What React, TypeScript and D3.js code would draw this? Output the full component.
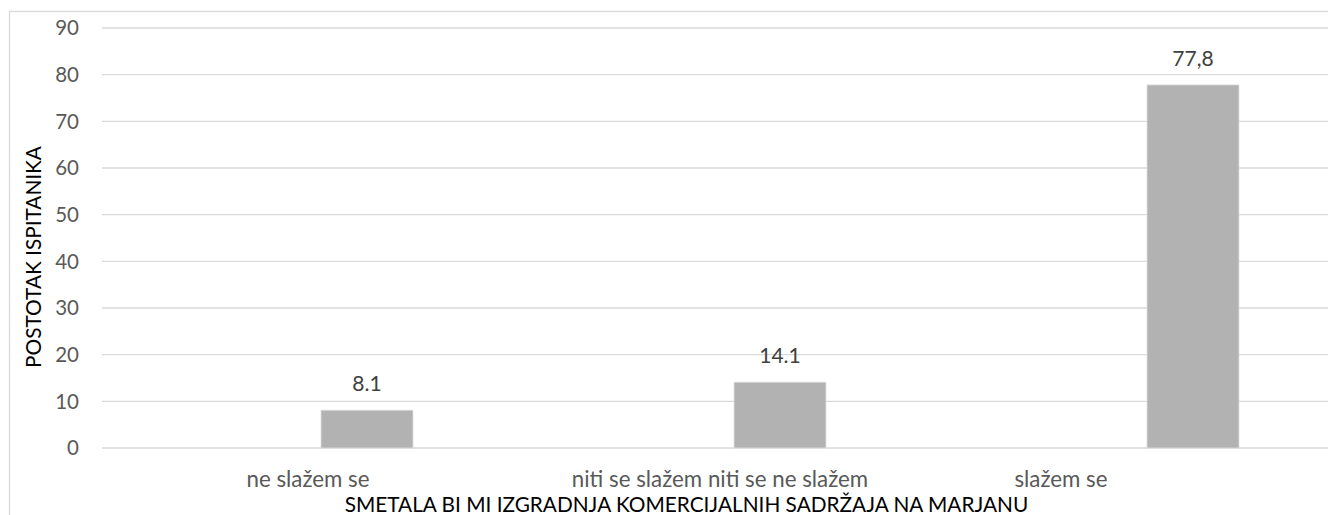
import React from "react";
import * as d3 from "d3";

const categories = ["ne slažem se", "niti se slažem niti se ne slažem", "slažem se"];
const values = [8.1, 14.1, 77.8];
const valueLabels = ["8.1", "14.1", "77,8"];
const yTicks = [0, 10, 20, 30, 40, 50, 60, 70, 80, 90];
const xTitle = "SMETALA BI MI IZGRADNJA KOMERCIJALNIH SADRŽAJA NA MARJANU";
const yTitle = "POSTOTAK ISPITANIKA";

const W = 1328;
const H = 515;
const FONT = "Lato, 'Open Sans', sans-serif";

export default function App() {
  const y = d3.scaleLinear().domain([0, 90]).range([448, 28]);
  const step = 413;
  const barW = 92;
  const pad = 1 - barW / step;
  const x = d3
    .scaleBand<string>()
    .domain(categories)
    .range([160.5, 160.5 + step * categories.length])
    .paddingInner(pad)
    .paddingOuter(pad / 2);
  const labelShift = [-59, -60, -132];
  const gridLeft = 102;

  return (
    <svg
      width={W}
      height={H}
      style={{ position: "absolute", left: 0, top: 0, background: "#fff" }}
      fontFamily={FONT}
    >
      <rect x={9.5} y={11.5} width={W + 20} height={H + 20} fill="#fff" stroke="#d9d9d9" strokeWidth={1.3} />
      {yTicks.map((t) => (
        <g key={t}>
          <line x1={gridLeft} x2={W + 5} y1={y(t)} y2={y(t)} stroke="#d9d9d9" strokeWidth={1.3} />
          <text x={79} y={y(t)} dy="0.36em" textAnchor="end" fontSize={20.5} fill="#595959">
            {t}
          </text>
        </g>
      ))}
      {categories.map((c, i) => {
        const bx = x(c)!;
        const cx = bx + x.bandwidth() / 2;
        return (
          <g key={c}>
            <rect
              x={bx}
              y={y(values[i])}
              width={x.bandwidth()}
              height={y(0) - y(values[i])}
              fill="#b2b2b2"
              stroke="#dedede"
              strokeWidth={0.8}
            />
            <text x={cx} y={y(values[i]) - 19} textAnchor="middle" fontSize={21} fill="#404040">
              {valueLabels[i]}
            </text>
            <text x={cx + labelShift[i]} y={487} textAnchor="middle" fontSize={22.3} fill="#595959">
              {c}
            </text>
          </g>
        );
      })}
      <text x={686.5} y={512} textAnchor="middle" fontSize={20.8} fill="#000">
        {xTitle}
      </text>
      <text
        transform={`translate(41, 257) rotate(-90)`}
        textAnchor="middle"
        fontSize={20.8}
        fill="#000"
      >
        {yTitle}
      </text>
    </svg>
  );
}
